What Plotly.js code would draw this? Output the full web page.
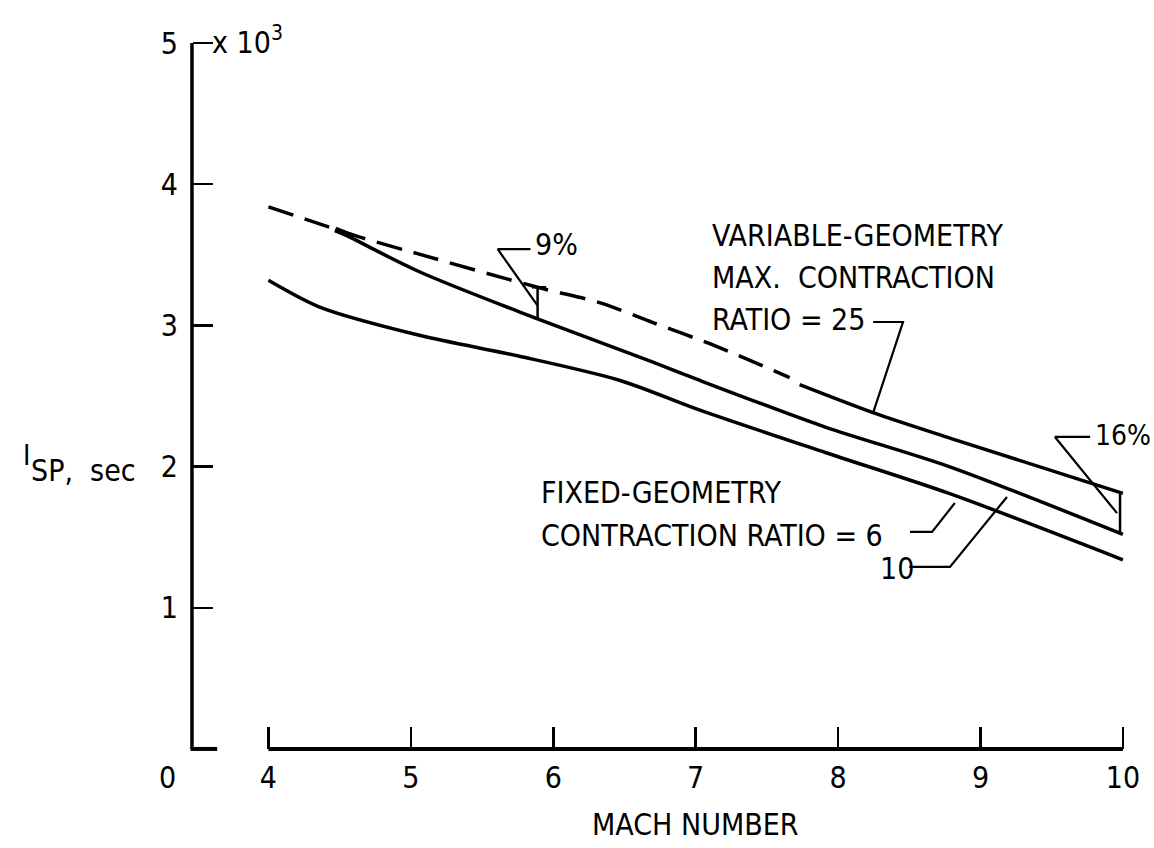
<!DOCTYPE html>
<html>
<head>
<meta charset="utf-8">
<script src="https://cdn.plot.ly/plotly-3.0.1.min.js"></script>
<style>html,body{margin:0;padding:0;background:#fff;}#chart{width:1154px;height:848px;}</style>
</head>
<body>
<div id="chart"></div>
<script>
// ---- data (Isp in thousands of seconds vs Mach number) ----
const varDashedMach = [4.00, 4.66, 5.04, 5.89, 6.33, 6.70, 7.15, 7.66];
const varDashedIsp  = [3.84, 3.62, 3.51, 3.27, 3.16, 3.02, 2.85, 2.63];
const varSolidMach  = [7.73, 8.25, 8.79, 10.00];
const varSolidIsp   = [2.58, 2.38, 2.20, 1.81];
const cr10Mach = [4.47, 5.06, 5.88, 6.70, 7.03, 7.91, 8.78, 10.00];
const cr10Isp  = [3.68, 3.38, 3.05, 2.74, 2.61, 2.28, 2.00, 1.52];
const cr6Mach  = [4.00, 4.36, 5.06, 5.77, 6.47, 7.03, 7.91, 8.78, 10.00];
const cr6Isp   = [3.32, 3.13, 2.93, 2.78, 2.61, 2.40, 2.10, 1.81, 1.34];

const xTickVals = [4, 5, 6, 7, 8, 9, 10];
const xTickText = ['4', '5', '6', '7', '8', '9', '10'];
const yTickVals = [1, 2, 3, 4, 5];
const yTickText = ['1', '2', '3', '4', '5'];

// bracket / leader geometry (data units)
const bracket9Mach = [5.89, 5.89];
const bracket9Isp  = [3.27, 3.05];
const bracket16Mach = [9.98, 9.98];
const bracket16Isp  = [1.81, 1.52];

const FONT = 'DejaVu Sans Condensed, Liberation Sans Narrow, DejaVu Sans, sans-serif';
const YAXIS_X = 3.463;   // where the vertical axis sits
const XMIN = 3.40, XMAX = 10.05, YMIN = -0.05, YMAX = 5.05;

function line(x, y, w, dash, smooth) {
  const l = {color: '#000', width: w, dash: dash || 'solid'};
  if (smooth) { l.shape = 'spline'; l.smoothing = 0.8; }
  return {type: 'scatter', mode: 'lines', x: x, y: y, hoverinfo: 'skip', line: l};
}

const traces = [
  line(varDashedMach, varDashedIsp, 3.5, '26px,12px', true),
  line(varSolidMach, varSolidIsp, 3.5, null, true),
  line(cr10Mach, cr10Isp, 3.5, null, true),
  line(cr6Mach, cr6Isp, 3.5, null, true),
  // thick start of the CR-10 curve on the dashed line
  line([cr10Mach[0], 4.60], [cr10Isp[0], 3.625], 6),
  // brackets
  line(bracket9Mach, bracket9Isp, 2.5),
  line([5.85, 5.95], [bracket9Isp[0], bracket9Isp[0]], 2.5),
  line(bracket16Mach, bracket16Isp, 2.5),
  // leaders
  line([5.84, 5.61, 5.89], [3.54, 3.54, 3.14], 2.2),
  line([8.246, 8.456, 8.246], [3.024, 3.024, 2.38], 2.2),
  line([8.505, 8.66, 8.82], [1.537, 1.537, 1.742], 2.2),
  line([8.50, 8.786, 9.186], [1.289, 1.289, 1.785], 2.2),
  line([9.77, 9.523, 9.959], [2.21, 2.21, 1.67], 2.2)
];

function ann(text, x, y, size, xanchor, xshift, yshift) {
  return {text: text, x: x, y: y, xref: 'x', yref: 'y', showarrow: false,
          xanchor: xanchor || 'left', yanchor: 'middle',
          xshift: xshift || 0, yshift: yshift || 0,
          font: {family: FONT, size: size || 30, color: '#000'}};
}

const annotations = [
  ann('VARIABLE-GEOMETRY', 7.10, 3.64),
  ann('MAX.  CONTRACTION', 7.10, 3.34),
  ann('RATIO = 25', 7.10, 3.04),
  ann('FIXED-GEOMETRY', 5.90, 1.82),
  ann('CONTRACTION RATIO = 6', 5.90, 1.515),
  ann('10', 8.28, 1.28),
  ann('9%', 5.86, 3.57),
  ann('16%', 9.79, 2.22, 28),
  ann('0', YAXIS_X, 0, 30, 'center', -24, -29),
  ann('x 10<sup>3</sup>', 3.589, 5.02),
  ann('MACH NUMBER', 7, 0, 30, 'center', 0, -76),
  ann('I', XMIN, 2.08, 28, 'left', -162, 0),
  ann('SP,  sec', XMIN, 1.97, 30, 'left', -154, 0)
];

const shapes = [
  {type: 'line', xref: 'x', yref: 'y', x0: YAXIS_X, x1: YAXIS_X, y0: 0, y1: 5, line: {color: '#000', width: 3.5}},
  {type: 'line', xref: 'x', yref: 'y', x0: YAXIS_X - 0.01, x1: 3.64, y0: 0, y1: 0, line: {color: '#000', width: 4}},
  {type: 'line', xref: 'x', yref: 'y', x0: 4, x1: 10, y0: 0, y1: 0, line: {color: '#000', width: 4}}
];

const layout = {
  width: 1154, height: 848,
  margin: {l: 183, r: 24, t: 36, b: 92, pad: 0},
  paper_bgcolor: '#fff', plot_bgcolor: '#fff',
  showlegend: false,
  font: {family: FONT, size: 30, color: '#000'},
  xaxis: {
    range: [XMIN, XMAX], showgrid: false, zeroline: false, showline: false,
    anchor: 'free', position: (0 - YMIN) / (YMAX - YMIN),
    ticks: 'inside', ticklen: 22, tickwidth: 2.5, tickcolor: '#000',
    tickvals: xTickVals, ticktext: xTickText,
    tickfont: {family: FONT, size: 30, color: '#000'},
    ticklabelstandoff: 8
  },
  yaxis: {
    range: [YMIN, YMAX], showgrid: false, zeroline: false, showline: false,
    anchor: 'free', position: (YAXIS_X - XMIN) / (XMAX - XMIN),
    ticks: 'inside', ticklen: 20, tickwidth: 2.5, tickcolor: '#000',
    tickvals: yTickVals, ticktext: yTickText,
    tickfont: {family: FONT, size: 30, color: '#000'},
    ticklabelstandoff: 14
  },
  shapes: shapes,
  annotations: annotations
};

Plotly.newPlot('chart', traces, layout, {staticPlot: true, displayModeBar: false});
</script>
</body>
</html>
